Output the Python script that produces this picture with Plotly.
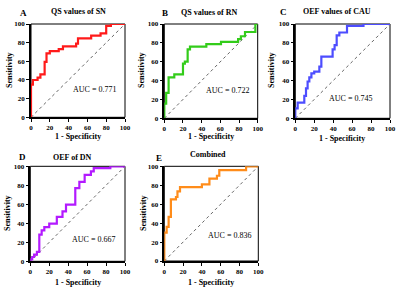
import plotly.graph_objects as go

# ROC step curves (1 - specificity %, sensitivity %)
sn_x = [0, 0, 2, 2, 7, 7, 10, 10, 14.5, 14.5, 16.5, 16.5, 20, 20, 29.5, 29.5, 34, 34, 48, 48, 50, 50, 64, 64, 74, 74, 80, 80, 85, 85, 100]
sn_y = [0, 35, 35, 40, 40, 42.5, 42.5, 46, 46, 59.5, 59.5, 68.5, 68.5, 71, 71, 73, 73, 76, 76, 79, 79, 84.5, 84.5, 87.5, 87.5, 90, 90, 98, 98, 100, 100]

rn_x = [0, 0, 2, 2, 4.6, 4.6, 10.7, 10.7, 20, 20, 22, 22, 25, 25, 27.5, 27.5, 45, 45, 60.7, 60.7, 79, 79, 82, 82, 86.4, 86.4, 97.5, 97.5, 100]
rn_y = [0, 15.6, 15.6, 27, 27, 43.3, 43.3, 46.5, 46.5, 58, 58, 60, 60, 73, 73, 76, 76, 78.7, 78.7, 81, 81, 84, 84, 87, 87, 91.5, 91.5, 100, 100]

cau_x = [0, 0, 2.5, 2.5, 9.5, 9.5, 11.3, 11.3, 13, 13, 14.8, 14.8, 17, 17, 20, 20, 25.4, 25.4, 27.5, 27.5, 39.4, 39.4, 41.5, 41.5, 43.7, 43.7, 46.5, 46.5, 54.6, 54.6, 72, 72, 100]
cau_y = [0, 10.6, 10.6, 16.6, 16.6, 23.7, 23.7, 31.8, 31.8, 39, 39, 43.5, 43.5, 47.7, 47.7, 49.5, 49.5, 54.8, 54.8, 65.4, 65.4, 73, 73, 77.7, 77.7, 88, 88, 91, 91, 98, 98, 100, 100]

dn_x = [0, 0, 2, 2, 4, 4, 7, 7, 9.5, 9.5, 12, 12, 14.8, 14.8, 20, 20, 28, 28, 34, 34, 37.7, 37.7, 47.5, 47.5, 51.8, 51.8, 57.4, 57.4, 64, 64, 67, 67, 84.5, 84.5, 100]
dn_y = [0, 2, 2, 4.5, 4.5, 7, 7, 10, 10, 28, 28, 32.6, 32.6, 36, 36, 39.6, 39.6, 46.7, 46.7, 52.6, 52.6, 59.6, 59.6, 77, 77, 83.5, 83.5, 91, 91, 94.7, 94.7, 98, 98, 100, 100]

comb_x = [0, 0, 2.5, 2.5, 4.6, 4.6, 7, 7, 12.4, 12.4, 14, 14, 16.7, 16.7, 40, 40, 48, 48, 56, 56, 58.5, 58.5, 87, 87, 100]
comb_y = [0, 30, 30, 36, 36, 46.5, 46.5, 65, 65, 67.6, 67.6, 73.6, 73.6, 78, 78, 81, 81, 87, 87, 90, 90, 96, 96, 100, 100]

panels = [
    dict(letter="A", title="QS values of SN", x=sn_x, y=sn_y, color="#ff1a1a", auc="AUC = 0.771"),
    dict(letter="B", title="QS values of RN", x=rn_x, y=rn_y, color="#33cc1a", auc="AUC = 0.722"),
    dict(letter="C", title="OEF values of CAU", x=cau_x, y=cau_y, color="#4d4dff", auc="AUC = 0.745"),
    dict(letter="D", title="OEF of DN", x=dn_x, y=dn_y, color="#b31aff", auc="AUC = 0.667"),
    dict(letter="E", title="Combined", x=comb_x, y=comb_y, color="#ff8c1a", auc="AUC = 0.836"),
]

W, H = 400, 292
# pixel boxes (left, right, top, bottom)
boxes = [
    (31, 125, 24, 117.3),
    (164.3, 257.7, 24, 118.3),
    (295.3, 390, 24, 118.3),
    (30.3, 125, 166.3, 261.3),
    (164.3, 258.3, 166.3, 261),
]
# annotation pixel positions (centers)
letter_pos = [(23, 13), (165, 13), (283, 12), (22, 157), (159, 158)]
title_pos = [(78, 12), (209, 13), (337, 12), (72, 157), (208, 154)]
ylab_pos = [(10, 70), (142, 70), (272, 70), (7, 213), (143, 213)]
xlab_pos = [(78, 136), (211, 136), (342, 138), (78, 282), (211, 282)]
auc_pos = [(94, 89), (227, 90), (350, 98), (93, 239), (230, 235)]

SERIF = "Liberation Serif"
fig = go.Figure()
layout = dict(width=W, height=H, margin=dict(l=0, r=0, t=0, b=0),
              paper_bgcolor="white", plot_bgcolor="white", showlegend=False)
annotations = []
shapes = []


def px2x(p):
    return p / W


def px2y(p):
    return 1 - p / H


for i, (p, b) in enumerate(zip(panels, boxes)):
    n = "" if i == 0 else str(i + 1)
    xa, ya = "x" + n, "y" + n
    fig.add_trace(go.Scatter(x=[0, 100], y=[0, 100], mode="lines", xaxis=xa, yaxis=ya,
                             line=dict(color="#555555", width=0.9, dash="dot")))
    fig.add_trace(go.Scatter(x=p["x"], y=p["y"], mode="lines", xaxis=xa, yaxis=ya,
                             line=dict(color=p["color"], width=2.2)))
    axcommon = dict(range=[0, 100], showgrid=False, zeroline=False, showline=True,
                    linecolor="black", linewidth=1.5, ticks="outside", ticklen=3,
                    tickwidth=1.2, tickcolor="black", tickvals=[0, 20, 40, 60, 80, 100],
                    automargin=False,
                    tickfont=dict(family=SERIF, size=7, color="black", weight="bold"))
    layout["xaxis" + n] = dict(axcommon, domain=[px2x(b[0]), px2x(b[1])], anchor=ya)
    layout["yaxis" + n] = dict(axcommon, domain=[px2y(b[3]), px2y(b[2])], anchor=xa)
    shapes.append(dict(type="rect", xref=xa + " domain", yref=ya + " domain", x0=0, x1=1, y0=0, y1=1,
                       line=dict(color="black", width=1), layer="below"))
    font_b = dict(family=SERIF, size=8, color="black", weight="bold")
    common = dict(xref="paper", yref="paper", showarrow=False, xanchor="center", yanchor="middle")
    annotations += [
        dict(common, text=p["letter"], x=px2x(letter_pos[i][0]), y=px2y(letter_pos[i][1]),
             font=dict(family=SERIF, size=9, color="black", weight="bold")),
        dict(common, text=p["title"], x=px2x(title_pos[i][0]), y=px2y(title_pos[i][1]), font=font_b),
        dict(common, text="Sensitivity", x=px2x(ylab_pos[i][0]), y=px2y(ylab_pos[i][1]),
             textangle=-90, font=font_b),
        dict(common, text="1 - Specificity", x=px2x(xlab_pos[i][0]), y=px2y(xlab_pos[i][1]), font=font_b),
        dict(common, text=p["auc"], x=px2x(auc_pos[i][0]), y=px2y(auc_pos[i][1]),
             font=dict(family=SERIF, size=8, color="black")),
    ]

layout["annotations"] = annotations
layout["shapes"] = shapes
fig.update_layout(**layout)
fig.write_html("out.html", config={"displayModeBar": False},
               post_script="document.body.style.margin='0px';")
